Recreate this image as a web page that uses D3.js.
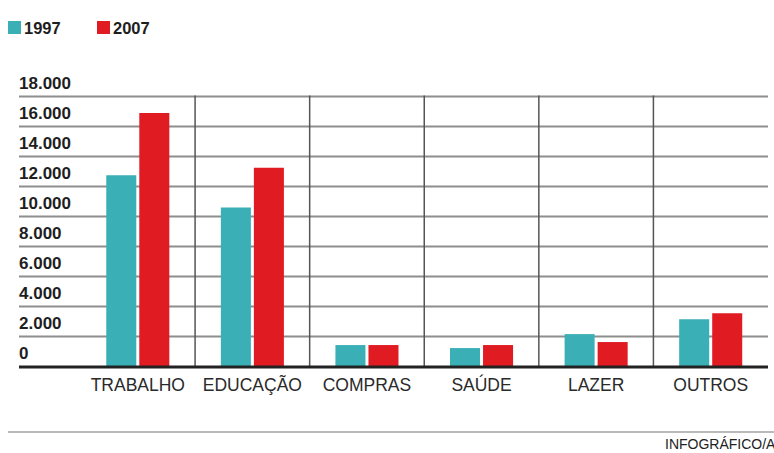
<!DOCTYPE html>
<html>
<head>
<meta charset="utf-8">
<script src="https://cdn.jsdelivr.net/npm/d3@7"></script>
<style>
  html, body { margin: 0; padding: 0; background: #fff; }
  svg { display: block; }
</style>
</head>
<body>
<svg id="chart" width="774" height="453"></svg>
<script>
// Deslocamentos por motivo (1997 x 2007)
const categories = ["TRABALHO", "EDUCAÇÃO", "COMPRAS", "SAÚDE", "LAZER", "OUTROS"];
const series = ["1997", "2007"];
const values1997 = [12750, 10600, 1430, 1230, 2160, 3150];
const values2007 = [16900, 13250, 1430, 1430, 1630, 3550];
const yTicks = [0, 2000, 4000, 6000, 8000, 10000, 12000, 14000, 16000, 18000];
const yTickLabels = ["0", "2.000", "4.000", "6.000", "8.000", "10.000", "12.000", "14.000", "16.000", "18.000"];
const colors = { "1997": "#3aafb6", "2007": "#e11b22" };
const source = "INFOGRÁFICO/A";

const svg = d3.select("#chart");
const font = "'Liberation Sans', Arial, sans-serif";

const y = d3.scaleLinear().domain([0, 18000]).range([366.5, 96.5]);
const x0 = d3.scaleBand().domain(categories).range([80.5, 768]).padding(0);
const x1 = d3.scaleBand().domain(series).range([0, x0.bandwidth()])
  .paddingInner(0.091).paddingOuter(0.78);

const rows = categories.map((c, i) => ({ cat: c, "1997": values1997[i], "2007": values2007[i] }));

// Horizontal gridlines + labels
const grid = svg.append("g");
yTicks.forEach((t, i) => {
  if (t > 0) {
    grid.append("line")
      .attr("x1", 19).attr("x2", 768)
      .attr("y1", y(t)).attr("y2", y(t))
      .attr("stroke", "#8e8e8e").attr("stroke-width", 2);
  }
  grid.append("text")
    .attr("x", 19).attr("y", y(t) - 8)
    .attr("font-family", font).attr("font-weight", "bold")
    .attr("font-size", 17).attr("fill", "#1e1e1e")
    .text(yTickLabels[i]);
});

// Vertical separators between categories
categories.slice(1).forEach(c => {
  svg.append("line")
    .attr("x1", x0(c)).attr("x2", x0(c))
    .attr("y1", y(18000) - 1).attr("y2", y(0))
    .attr("stroke", "#555").attr("stroke-width", 1.5);
});

// Bars
const groups = svg.append("g").selectAll("g").data(rows).join("g")
  .attr("transform", d => `translate(${x0(d.cat)},0)`);
groups.selectAll("rect")
  .data(d => series.map(s => ({ s, v: d[s] })))
  .join("rect")
  .attr("x", d => x1(d.s))
  .attr("width", x1.bandwidth())
  .attr("y", d => y(d.v))
  .attr("height", d => y(0) - y(d.v))
  .attr("fill", d => colors[d.s]);

// Baseline
svg.append("line")
  .attr("x1", 19).attr("x2", 768)
  .attr("y1", y(0) + 0.5).attr("y2", y(0) + 0.5)
  .attr("stroke", "#222").attr("stroke-width", 3);

// Category labels
svg.append("g").selectAll("text").data(categories).join("text")
  .attr("x", d => x0(d) + x0.bandwidth() / 2)
  .attr("y", 391)
  .attr("text-anchor", "middle")
  .attr("font-family", font).attr("font-size", 17.5).attr("fill", "#2a2a2a")
  .text(d => d);

// Legend
const legend = svg.append("g");
const legendX = [8, 97];
series.forEach((s, i) => {
  legend.append("rect")
    .attr("x", legendX[i]).attr("y", 21).attr("width", 13).attr("height", 13)
    .attr("fill", colors[s]);
  legend.append("text")
    .attr("x", legendX[i] + 16).attr("y", 34)
    .attr("font-family", font).attr("font-weight", "bold")
    .attr("font-size", 16.5).attr("fill", "#1e1e1e")
    .text(s);
});

// Footer
svg.append("line")
  .attr("x1", 8).attr("x2", 774).attr("y1", 432).attr("y2", 432)
  .attr("stroke", "#777").attr("stroke-width", 1.2);
svg.append("text")
  .attr("x", 665).attr("y", 449)
  .attr("font-family", font).attr("font-size", 14).attr("fill", "#222")
  .text(source);
</script>
</body>
</html>
